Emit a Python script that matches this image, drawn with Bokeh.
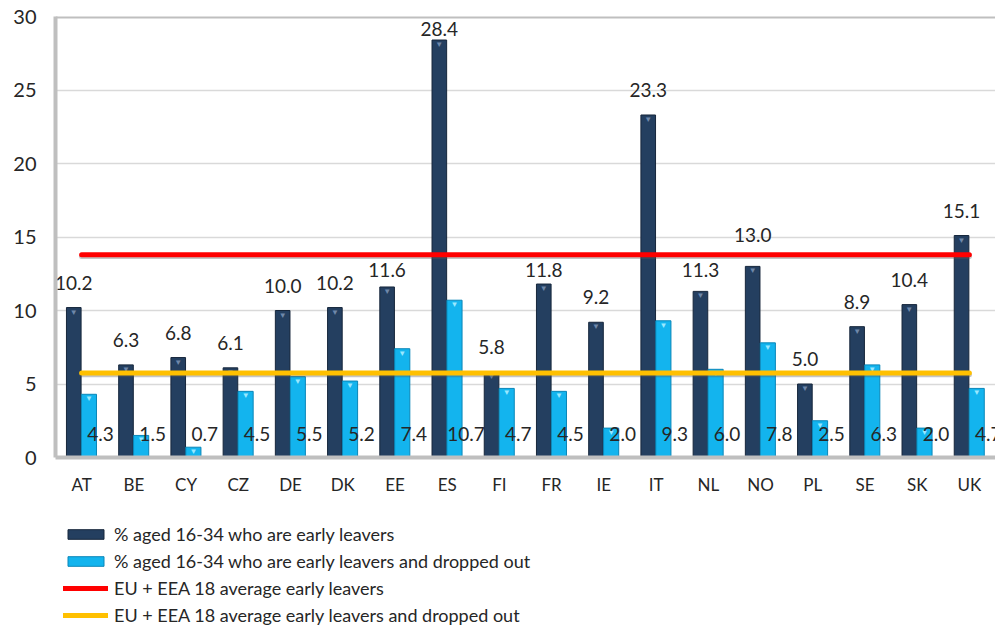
from bokeh.plotting import figure
from bokeh.layouts import column
from bokeh.models import ColumnDataSource, Legend, LegendItem, FactorRange, Range1d, FixedTicker, Span
from bokeh.transform import dodge
from bokeh.core.properties import value
from bokeh.embed import file_html
from bokeh.resources import INLINE

countries = ["AT", "BE", "CY", "CZ", "DE", "DK", "EE", "ES", "FI", "FR",
             "IE", "IT", "NL", "NO", "PL", "SE", "SK", "UK"]
early = [10.2, 6.3, 6.8, 6.1, 10.0, 10.2, 11.6, 28.4, 5.8, 11.8,
         9.2, 23.3, 11.3, 13.0, 5.0, 8.9, 10.4, 15.1]
dropped = [4.3, 1.5, 0.7, 4.5, 5.5, 5.2, 7.4, 10.7, 4.7, 4.5,
           2.0, 9.3, 6.0, 7.8, 2.5, 6.3, 2.0, 4.7]
avg_early = 13.8
avg_dropped = 5.75
y_max = 30
y_ticks = [0, 5, 10, 15, 20, 25, 30]

series_names = ["% aged 16-34 who are early leavers",
                "% aged 16-34 who are early leavers and dropped out",
                "EU + EEA 18 average early leavers",
                "EU + EEA 18 average early leavers and dropped out"]

FONT = "Lato"
TXT = "#262626"
DARK = "#243F60"
CYAN = "#13B4EE"
BORDER = "#BFBFBF"

FRAME_TOP, FRAME_H, FRAME_LEFT, AXIS_H = 16, 441, 55, 40
P_H = FRAME_TOP + FRAME_H + AXIS_H
K = FRAME_H / y_max  # px per unit


def label_center(v):
    """Excel-like placement of the value label above a bar (label centre, data units)."""
    half = 7 / K
    c = v + 25 / K
    lo = avg_early - 8 / K
    if c + half > lo and c - half < avg_early + 10 / K:
        below = lo - half
        c = below if (below - half) - v >= 4 / K else avg_early + 20 / K
    if c + half > y_max - 5 / K:
        c = y_max - 12 / K
    return c


src = ColumnDataSource(dict(
    country=countries,
    early=early,
    dropped=dropped,
    zero=[0] * len(countries),
    early_lbl=[f"{v:.1f}" for v in early],
    dropped_lbl=[f"{v:.1f}" for v in dropped],
    early_lbl_y=[label_center(v) for v in early],
))

p = figure(width=995, height=P_H, x_range=FactorRange(factors=countries, range_padding=0),
           y_range=Range1d(0, y_max), output_backend="svg", toolbar_location=None,
           min_border_left=FRAME_LEFT, min_border_right=0, min_border_top=FRAME_TOP,
           min_border_bottom=AXIS_H)

p.background_fill_color = "white"
p.border_fill_color = "white"
p.outline_line_color = None

p.xgrid.grid_line_color = None
p.ygrid.grid_line_color = "#D9D9D9"
p.ygrid.grid_line_width = 1.5
p.yaxis.ticker = FixedTicker(ticks=y_ticks)

for ax in (p.xaxis[0], p.yaxis[0]):
    ax.axis_line_color = BORDER
    ax.axis_line_width = 4
    ax.major_tick_line_color = None
    ax.minor_tick_line_color = None
    ax.major_label_text_font = FONT
    ax.major_label_text_color = TXT

p.yaxis.major_label_text_font_size = "20px"
p.yaxis.major_label_standoff = 13
p.xaxis.major_label_text_font_size = "17px"
p.xaxis.major_label_standoff = 10

# top edge of the plot area (right edge runs off the picture in the original)
p.add_layout(Span(location=y_max, dimension="width", line_color=BORDER, line_width=4))

b1 = p.vbar(x=dodge("country", -0.15, range=p.x_range), top="early", width=0.28, source=src,
            fill_color=DARK, line_color="#16263b", line_width=1)
b2 = p.vbar(x=dodge("country", 0.14, range=p.x_range), top="dropped", width=0.29, source=src,
            fill_color=CYAN, line_color="#0a86b8", line_width=1)

# bevel triangles on bar tops
p.text(x=dodge("country", -0.15, range=p.x_range), y="early", text=value("\u25BC"), source=src,
       text_align="center", text_baseline="top", text_font_size="8px", text_color="#6f88aa")
p.text(x=dodge("country", 0.14, range=p.x_range), y="dropped", text=value("\u25BC"), source=src,
       text_align="center", text_baseline="top", text_font_size="8px", text_color="#9ae8ff")

# average lines with soft shadow
p.line(x=[countries[0], countries[-1]], y=[avg_early - 0.12, avg_early - 0.12],
       line_color="#595959", line_alpha=0.35, line_width=5, line_cap="round")
p.line(x=[countries[0], countries[-1]], y=[avg_dropped - 0.12, avg_dropped - 0.12],
       line_color="#595959", line_alpha=0.35, line_width=5, line_cap="round")
p.line(x=[countries[0], countries[-1]], y=[avg_early, avg_early],
       line_color="#FF0000", line_width=5, line_cap="round")
p.line(x=[countries[0], countries[-1]], y=[avg_dropped, avg_dropped],
       line_color="#FFC000", line_width=5, line_cap="round")

# data labels
p.text(x=dodge("country", -0.15, range=p.x_range), y="early_lbl_y", text="early_lbl", source=src,
       text_align="center", text_baseline="middle",
       text_font=value(FONT), text_font_size="19px", text_color=TXT)
p.text(x=dodge("country", 0.36, range=p.x_range), y="zero", text="dropped_lbl", source=src,
       text_align="center", text_baseline="middle", y_offset=-24,
       text_font=value(FONT), text_font_size="19px", text_color=TXT)

# legend panel (frame aligned with the chart frame by the column layout)
L_H = 629 - P_H
lf = figure(width=995, height=L_H, x_range=Range1d(0, 1), y_range=Range1d(0, 1),
            output_backend="svg", toolbar_location=None, min_border=0,
            x_axis_location=None, y_axis_location=None)
lf.grid.visible = False
lf.outline_line_color = None
lf.background_fill_color = "white"
lf.border_fill_color = "white"
# swatch-only renderers, kept outside the visible range
r1 = lf.vbar(x=[-5], top=[-5], width=1, fill_color=DARK, line_color="#16263b")
r2 = lf.vbar(x=[-5], top=[-5], width=1, fill_color=CYAN, line_color="#0a86b8")
r3 = lf.line(x=[-5, -4], y=[-5, -5], line_color="#FF0000", line_width=5, line_cap="round")
r4 = lf.line(x=[-5, -4], y=[-5, -5], line_color="#FFC000", line_width=5, line_cap="round")

legend = Legend(items=[LegendItem(label=n, renderers=[r]) for n, r in zip(series_names, [r1, r2, r3, r4])],
                location=(8, 3), orientation="vertical")
legend.border_line_color = None
legend.background_fill_alpha = 0
legend.label_text_font = FONT
legend.label_text_font_size = "18px"
legend.label_text_color = TXT
legend.glyph_width = 45
legend.glyph_height = 12
legend.label_height = 20
legend.label_standoff = 6
legend.spacing = 5
legend.padding = 0
legend.margin = 0
lf.add_layout(legend, "center")

layout = column(p, lf, spacing=0)
open("out.html", "w").write(file_html(layout, INLINE))
